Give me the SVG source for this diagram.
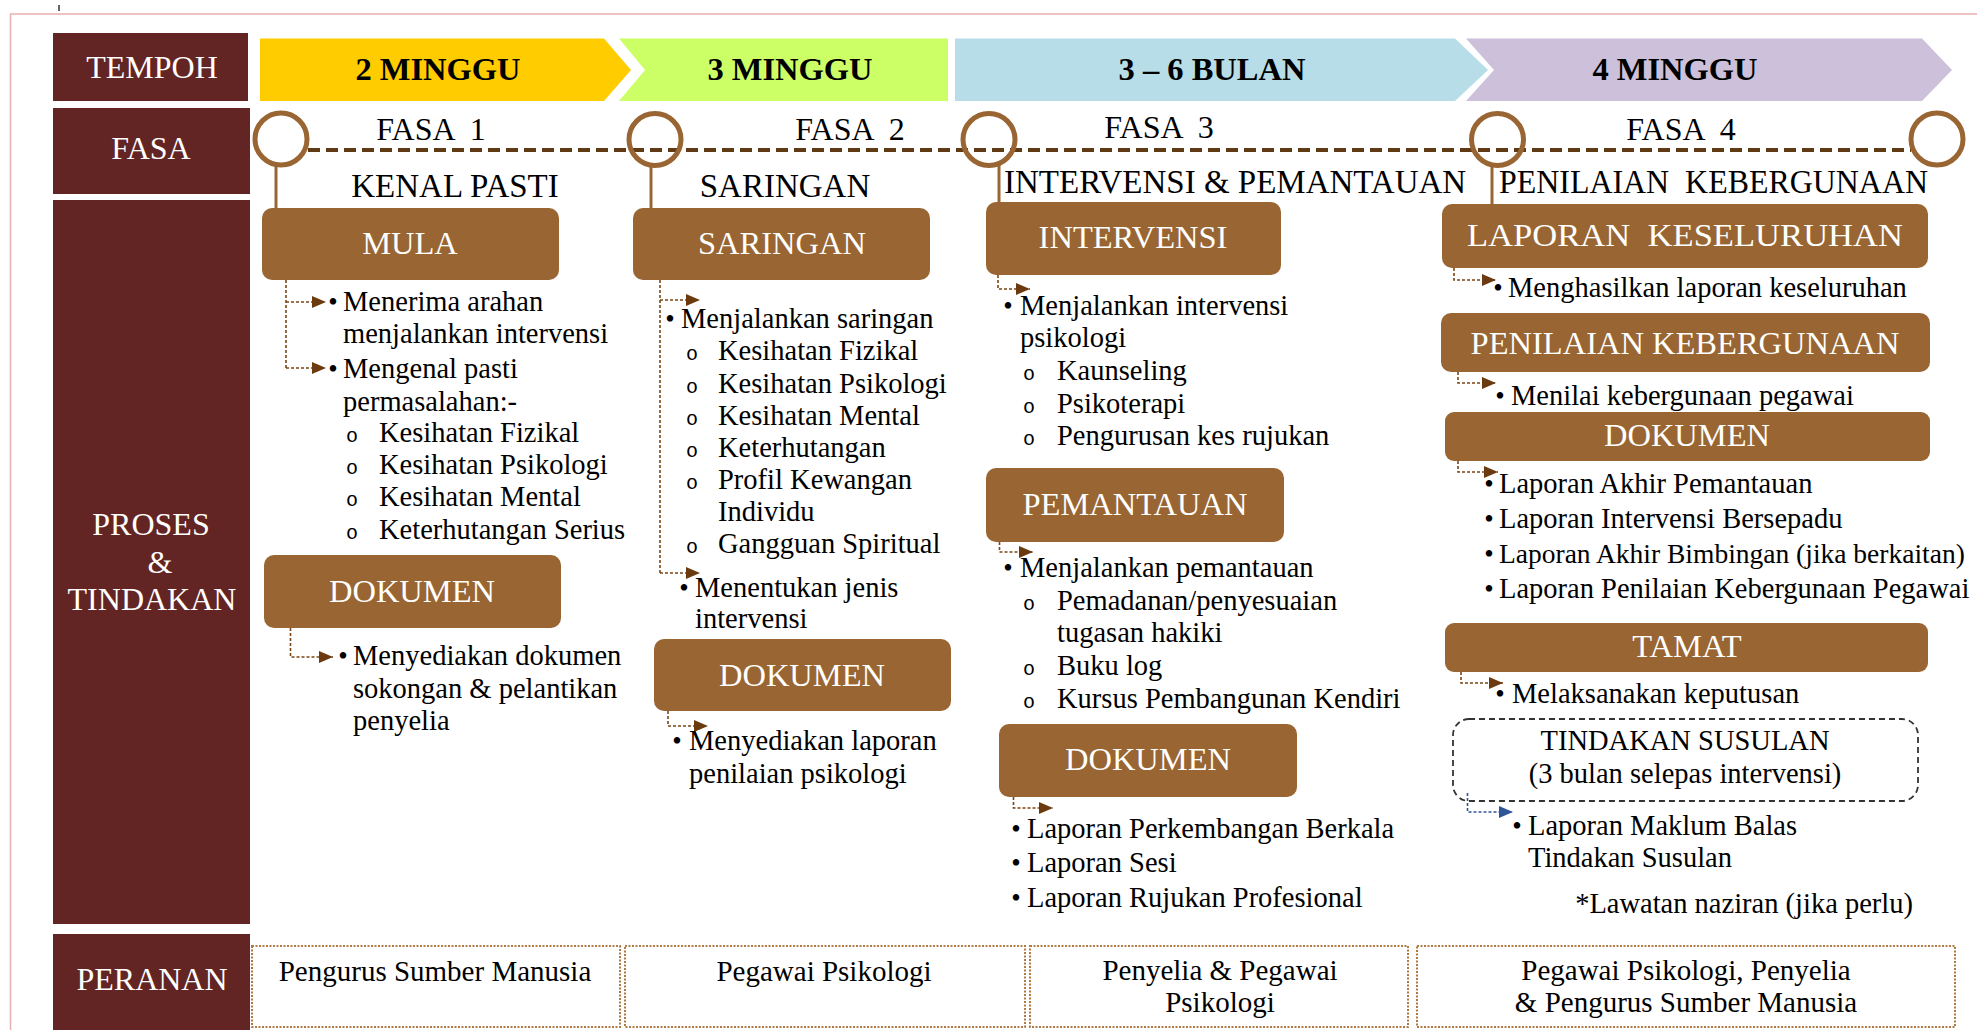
<svg xmlns="http://www.w3.org/2000/svg" width="1977" height="1030" viewBox="0 0 1977 1030">
  <style>
    text { font-family: "Liberation Serif", "Times New Roman", serif; }
    .col { fill: #632523; }
    .colt { fill: #ffffff; font-size: 32px; text-anchor: middle; }
    .per { fill: #000000; font-size: 32.5px; font-weight: bold; text-anchor: middle; }
    .fasa { fill: #000000; font-size: 32px; text-anchor: middle; }
    .phase { fill: #000000; font-size: 33px; }
    .box { fill: #996633; }
    .boxt { fill: #ffffff; font-size: 32.5px; text-anchor: middle; }
    .t { fill: #000000; font-size: 28.5px; }
    .b { fill: #000000; font-size: 27px; text-anchor: middle; }
    .o { fill: #000000; font-family: "Liberation Mono", "Courier New", monospace; font-size: 20px; text-anchor: middle; }
    .ring { fill: none; stroke: #996633; stroke-width: 5; }
    .stem { stroke: #996633; stroke-width: 3; }
    .link { fill: none; stroke: #7A4515; stroke-width: 1.6; stroke-dasharray: 3 2; }
    .linkb { fill: none; stroke: #2F5597; stroke-width: 1.6; stroke-dasharray: 3 2; }
    .role { fill: #ffffff; stroke: #B07A45; stroke-width: 2; stroke-dasharray: 2 1.5; }
    .rolet { fill: #000000; font-size: 29px; text-anchor: middle; }
  </style>
  <defs>
    <marker id="arr" markerUnits="userSpaceOnUse" markerWidth="14" markerHeight="12" refX="14" refY="6" orient="auto">
      <path d="M0 0 L14 6 L0 12 Z" fill="#6B3A0F"/>
    </marker>
    <marker id="arrb" markerUnits="userSpaceOnUse" markerWidth="14" markerHeight="12" refX="14" refY="6" orient="auto">
      <path d="M0 0 L14 6 L0 12 Z" fill="#2F5597"/>
    </marker>
  </defs>

  <rect width="1977" height="1030" fill="#ffffff"/>
  <!-- page frame -->
  <path d="M10.5 1030 V14 H1977" fill="none" stroke="#E8B0B0" stroke-width="1.5"/>
  <line x1="59" y1="5" x2="59" y2="11" stroke="#333" stroke-width="1.5"/>

  <!-- row headers -->
  <g id="hdr-tempoh"><rect class="col" x="53" y="33" width="195" height="68"/><text class="colt" x="152" y="78">TEMPOH</text></g>
  <g id="hdr-fasa"><rect class="col" x="53" y="108" width="197" height="86"/><text class="colt" x="151" y="159">FASA</text></g>
  <g id="hdr-proses"><rect class="col" x="53" y="200" width="197" height="724"/>
    <text class="colt" x="151" y="535">PROSES</text><text class="colt" x="160" y="573">&amp;</text><text class="colt" x="152" y="610">TINDAKAN</text></g>
  <g id="hdr-peranan"><rect class="col" x="53" y="934" width="197" height="96"/><text class="colt" x="152" y="990">PERANAN</text></g>

  <!-- duration chevrons -->
  <g id="tempoh-1"><path d="M260 38.5 H604 L631 70 L604 101 H260 Z" fill="#FFCC00"/><text class="per" x="438" y="80">2 MINGGU</text></g>
  <g id="tempoh-2"><path d="M619 38.5 H948 V101 H619 L645 70 Z" fill="#CCFF66"/><text class="per" x="790" y="80">3 MINGGU</text></g>
  <g id="tempoh-3"><path d="M955 38.5 H1455 L1488 70 L1455 101 H955 Z" fill="#B7DDE8"/><text class="per" x="1212" y="80">3 – 6 BULAN</text></g>
  <g id="tempoh-4"><path d="M1466 38.5 H1922 L1952 70 L1922 101 H1466 L1494 70 Z" fill="#CCC0DA"/><text class="per" x="1675" y="80">4 MINGGU</text></g>

  <!-- phase timeline -->
  <g id="timeline">
    <line x1="308" y1="150" x2="1911" y2="150" stroke="#5F3A14" stroke-width="4" stroke-dasharray="12 6"/>
    <circle class="ring" cx="281" cy="139" r="26"/>
    <circle class="ring" cx="655" cy="139.5" r="26"/>
    <circle class="ring" cx="989" cy="139.5" r="26"/>
    <circle class="ring" cx="1497.5" cy="139.5" r="26"/>
    <circle class="ring" cx="1937" cy="139" r="26"/>
    <line class="stem" x1="276" y1="166" x2="276" y2="208"/>
    <line class="stem" x1="651" y1="166" x2="651" y2="208"/>
    <line class="stem" x1="999" y1="165" x2="999" y2="202"/>
    <line class="stem" x1="1492" y1="166" x2="1492" y2="204"/>
    <text class="fasa" x="431" y="140" xml:space="preserve">FASA  1</text>
    <text class="fasa" x="850" y="140" xml:space="preserve">FASA  2</text>
    <text class="fasa" x="1159" y="138" xml:space="preserve">FASA  3</text>
    <text class="fasa" x="1681" y="140" xml:space="preserve">FASA  4</text>
    <text class="phase" x="455" y="197" text-anchor="middle">KENAL PASTI</text>
    <text class="phase" x="785" y="197" text-anchor="middle">SARINGAN</text>
    <text class="phase" x="1004" y="193">INTERVENSI &amp; PEMANTAUAN</text>
    <text class="phase" x="1499" y="193" xml:space="preserve" textLength="429" lengthAdjust="spacingAndGlyphs">PENILAIAN  KEBERGUNAAN</text>
  </g>

  <!-- process boxes -->
  <g id="f1-mula"><rect class="box" x="262" y="208" width="297" height="72" rx="10"/><text class="boxt" x="410" y="254">MULA</text></g>
  <g id="f1-dokumen"><rect class="box" x="264" y="555" width="297" height="73" rx="10"/><text class="boxt" x="412" y="602">DOKUMEN</text></g>
  <g id="f2-saringan"><rect class="box" x="633" y="208" width="297" height="72" rx="10"/><text class="boxt" x="782" y="254">SARINGAN</text></g>
  <g id="f2-dokumen"><rect class="box" x="654" y="639" width="297" height="72" rx="10"/><text class="boxt" x="802" y="686">DOKUMEN</text></g>
  <g id="f3-intervensi"><rect class="box" x="986" y="202" width="295" height="73" rx="10"/><text class="boxt" x="1133" y="248">INTERVENSI</text></g>
  <g id="f3-pemantauan"><rect class="box" x="986" y="468" width="298" height="74" rx="10"/><text class="boxt" x="1135" y="515">PEMANTAUAN</text></g>
  <g id="f3-dokumen"><rect class="box" x="999" y="724" width="298" height="73" rx="10"/><text class="boxt" x="1148" y="770">DOKUMEN</text></g>
  <g id="f4-laporan"><rect class="box" x="1442" y="204" width="486" height="64" rx="10"/><text class="boxt" x="1685" y="246" xml:space="preserve" textLength="436" lengthAdjust="spacingAndGlyphs">LAPORAN  KESELURUHAN</text></g>
  <g id="f4-penilaian"><rect class="box" x="1441" y="313" width="489" height="59" rx="10"/><text class="boxt" x="1685" y="354">PENILAIAN KEBERGUNAAN</text></g>
  <g id="f4-dokumen"><rect class="box" x="1445" y="412" width="485" height="49" rx="9"/><text class="boxt" x="1687" y="446">DOKUMEN</text></g>
  <g id="f4-tamat"><rect class="box" x="1445" y="623" width="483" height="49" rx="9"/><text class="boxt" x="1687" y="657">TAMAT</text></g>
  <g id="f4-susulan"><rect x="1453" y="719" width="465" height="82" rx="16" fill="#ffffff" stroke="#333333" stroke-width="1.8" stroke-dasharray="6 4"/>
    <text class="t" x="1685" y="750" text-anchor="middle">TINDAKAN SUSULAN</text>
    <text class="t" x="1685" y="783" text-anchor="middle">(3 bulan selepas intervensi)</text></g>

  <!-- connectors -->
  <g id="connectors">
    <path class="link" d="M286 280 V368"/>
    <path class="link" d="M286 302 H326" marker-end="url(#arr)"/>
    <path class="link" d="M286 368 H326" marker-end="url(#arr)"/>
    <path class="link" d="M290.5 628 V657 H333" marker-end="url(#arr)"/>
    <path class="link" d="M660 280 V573"/>
    <path class="link" d="M660 300 H700" marker-end="url(#arr)"/>
    <path class="link" d="M660 573 H700" marker-end="url(#arr)"/>
    <path class="link" d="M668 711 V726 H708" marker-end="url(#arr)"/>
    <path class="link" d="M998 275 V289 H1030" marker-end="url(#arr)"/>
    <path class="link" d="M999.5 542 V552 H1033" marker-end="url(#arr)"/>
    <path class="link" d="M1013.5 797 V808 H1053" marker-end="url(#arr)"/>
    <path class="link" d="M1454 268 V280 H1496" marker-end="url(#arr)"/>
    <path class="link" d="M1458 372 V383 H1496" marker-end="url(#arr)"/>
    <path class="link" d="M1458 461 V472 H1498" marker-end="url(#arr)"/>
    <path class="link" d="M1461 672 V683 H1503" marker-end="url(#arr)"/>
    <path class="linkb" d="M1467.5 793 V812 H1513" marker-end="url(#arrb)"/>
  </g>

  <!-- fasa 1 items -->
  <g id="f1-items">
    <text class="b" x="333" y="311">•</text><text class="t" x="343" y="311">Menerima arahan</text>
    <text class="t" x="343" y="343">menjalankan intervensi</text>
    <text class="b" x="333" y="378">•</text><text class="t" x="343" y="378">Mengenal pasti</text>
    <text class="t" x="343" y="411">permasalahan:-</text>
    <text class="o" x="352" y="442">o</text><text class="t" x="379" y="442">Kesihatan Fizikal</text>
    <text class="o" x="352" y="474">o</text><text class="t" x="379" y="474">Kesihatan Psikologi</text>
    <text class="o" x="352" y="506">o</text><text class="t" x="379" y="506">Kesihatan Mental</text>
    <text class="o" x="352" y="539">o</text><text class="t" x="379" y="539">Keterhutangan Serius</text>
    <text class="b" x="343" y="665">•</text><text class="t" x="353" y="665">Menyediakan dokumen</text>
    <text class="t" x="353" y="698">sokongan &amp; pelantikan</text>
    <text class="t" x="353" y="730">penyelia</text>
  </g>

  <!-- fasa 2 items -->
  <g id="f2-items">
    <text class="b" x="670" y="328">•</text><text class="t" x="681" y="328">Menjalankan saringan</text>
    <text class="o" x="692" y="360">o</text><text class="t" x="718" y="360">Kesihatan Fizikal</text>
    <text class="o" x="692" y="393">o</text><text class="t" x="718" y="393">Kesihatan Psikologi</text>
    <text class="o" x="692" y="425">o</text><text class="t" x="718" y="425">Kesihatan Mental</text>
    <text class="o" x="692" y="457">o</text><text class="t" x="718" y="457">Keterhutangan</text>
    <text class="o" x="692" y="489">o</text><text class="t" x="718" y="489">Profil Kewangan</text>
    <text class="t" x="718" y="521">Individu</text>
    <text class="o" x="692" y="553">o</text><text class="t" x="718" y="553">Gangguan Spiritual</text>
    <text class="b" x="684" y="597">•</text><text class="t" x="695" y="597">Menentukan jenis</text>
    <text class="t" x="695" y="628">intervensi</text>
    <text class="b" x="677" y="750">•</text><text class="t" x="689" y="750">Menyediakan laporan</text>
    <text class="t" x="689" y="783">penilaian psikologi</text>
  </g>

  <!-- fasa 3 items -->
  <g id="f3-items">
    <text class="b" x="1008" y="315">•</text><text class="t" x="1020" y="315">Menjalankan intervensi</text>
    <text class="t" x="1020" y="347">psikologi</text>
    <text class="o" x="1029" y="380">o</text><text class="t" x="1057" y="380">Kaunseling</text>
    <text class="o" x="1029" y="413">o</text><text class="t" x="1057" y="413">Psikoterapi</text>
    <text class="o" x="1029" y="445">o</text><text class="t" x="1057" y="445">Pengurusan kes rujukan</text>
    <text class="b" x="1008" y="577">•</text><text class="t" x="1020" y="577">Menjalankan pemantauan</text>
    <text class="o" x="1029" y="610">o</text><text class="t" x="1057" y="610">Pemadanan/penyesuaian</text>
    <text class="t" x="1057" y="642">tugasan hakiki</text>
    <text class="o" x="1029" y="675">o</text><text class="t" x="1057" y="675">Buku log</text>
    <text class="o" x="1029" y="708">o</text><text class="t" x="1057" y="708">Kursus Pembangunan Kendiri</text>
    <text class="b" x="1016" y="838">•</text><text class="t" x="1027" y="838">Laporan Perkembangan Berkala</text>
    <text class="b" x="1016" y="872">•</text><text class="t" x="1027" y="872">Laporan Sesi</text>
    <text class="b" x="1016" y="907">•</text><text class="t" x="1027" y="907">Laporan Rujukan Profesional</text>
  </g>

  <!-- fasa 4 items -->
  <g id="f4-items">
    <text class="b" x="1498" y="297">•</text><text class="t" x="1508" y="297">Menghasilkan laporan keseluruhan</text>
    <text class="b" x="1500" y="405">•</text><text class="t" x="1511" y="405">Menilai kebergunaan pegawai</text>
    <text class="b" x="1489" y="493">•</text><text class="t" x="1499" y="493">Laporan Akhir Pemantauan</text>
    <text class="b" x="1489" y="528">•</text><text class="t" x="1499" y="528">Laporan Intervensi Bersepadu</text>
    <text class="b" x="1489" y="563">•</text><text class="t" x="1499" y="563" style="font-size:27.5px">Laporan Akhir Bimbingan (jika berkaitan)</text>
    <text class="b" x="1489" y="598">•</text><text class="t" x="1499" y="598">Laporan Penilaian Kebergunaan Pegawai</text>
    <text class="b" x="1500" y="703">•</text><text class="t" x="1512" y="703">Melaksanakan keputusan</text>
    <text class="b" x="1517" y="835">•</text><text class="t" x="1528" y="835">Laporan Maklum Balas</text>
    <text class="t" x="1528" y="867">Tindakan Susulan</text>
    <text class="t" x="1913" y="913" text-anchor="end">*Lawatan naziran (jika perlu)</text>
  </g>

  <!-- roles -->
  <g id="role-1"><rect class="role" x="252" y="946" width="368" height="81"/><text class="rolet" x="435" y="981">Pengurus Sumber Manusia</text></g>
  <g id="role-2"><rect class="role" x="625" y="946" width="400" height="81"/><text class="rolet" x="824" y="981">Pegawai Psikologi</text></g>
  <g id="role-3"><rect class="role" x="1030" y="946" width="378" height="81"/><text class="rolet" x="1220" y="980">Penyelia &amp; Pegawai</text><text class="rolet" x="1220" y="1012">Psikologi</text></g>
  <g id="role-4"><rect class="role" x="1417" y="946" width="538" height="81"/><text class="rolet" x="1686" y="980">Pegawai Psikologi, Penyelia</text><text class="rolet" x="1686" y="1012">&amp; Pengurus Sumber Manusia</text></g>
</svg>
